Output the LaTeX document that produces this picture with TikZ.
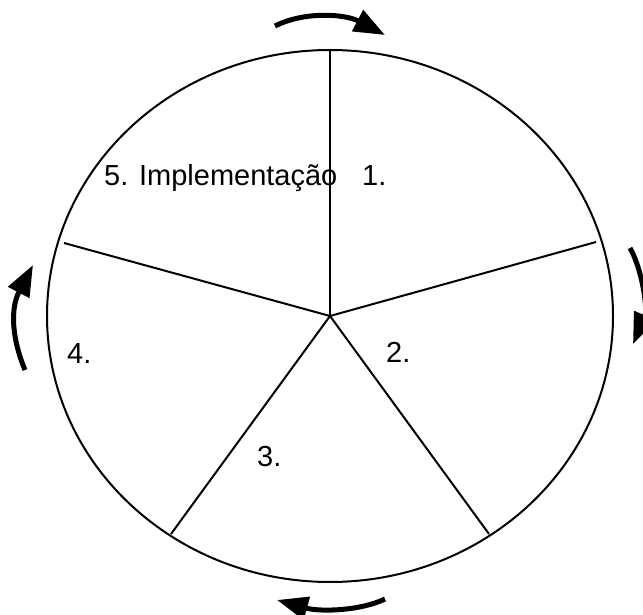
\documentclass[tikz,border=0pt]{standalone}
\usepackage{fontspec}
\setmainfont{Liberation Sans}
\usetikzlibrary{arrows.meta}

\begin{document}
\begin{tikzpicture}[
    x=1pt, y=1pt,
    rim/.style   = {line width=2pt},
    spoke/.style = {line width=2pt},
    turn/.style  = {line width=5pt,
                     -{Triangle[length=31pt, width=23pt]}},
    lbl/.style   = {font=\fontsize{29}{34}\selectfont,
                     inner sep=0pt, anchor=base west},
  ]
  \useasboundingbox (0,0) rectangle (643,614);
  % wheel
  \coordinate (c) at (330,298);
  \draw[rim] (c) ellipse [x radius=283, y radius=266];
  % spoke ends
  \coordinate (s1) at (330,564);
  \coordinate (s2) at (596,372);
  \coordinate (s3) at (489,80);
  \coordinate (s4) at (171,80);
  \coordinate (s5) at (64,371);
  \foreach \i in {1,...,5}{\draw[spoke] (c) -- (s\i);}
  % phase labels
  \node[lbl] (l5) at (104,428) {5. Implementação};
  \node[lbl] (l1) at (362,428) {1.};
  \node[lbl] (l2) at (386,251) {2.};
  \node[lbl] (l3) at (257,148) {3.};
  \node[lbl] (l4) at (67,250)  {4.};
  % clockwise turning arrows
  \coordinate (ta) at (275,588);
  \coordinate (tb) at (385,579);
  \coordinate (ra) at (630,366);
  \coordinate (rb) at (633,270);
  \coordinate (ba) at (385,15);
  \coordinate (bb) at (277,14);
  \coordinate (la) at (25,244);
  \coordinate (lb) at (33,349);
  \draw[turn] (ta) .. controls (305,603) and (345,600) .. (tb);
  \draw[turn] (ra) .. controls (642,345) and (648,305) .. (rb);
  \draw[turn] (ba) .. controls (360,3) and (320,2) .. (bb);
  \draw[turn] (la) .. controls (12,275) and (10,305) .. (lb);
\end{tikzpicture}
\end{document}
